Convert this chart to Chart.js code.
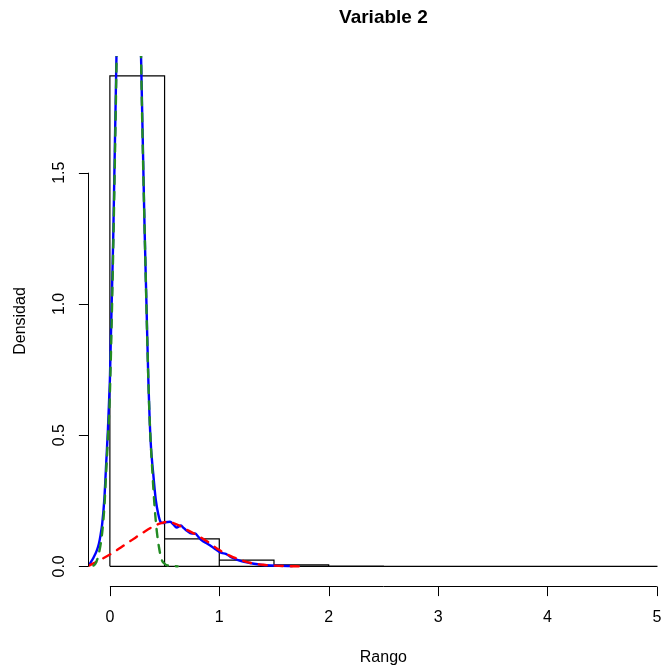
<!DOCTYPE html>
<html>
<head>
<meta charset="utf-8">
<script src="https://cdn.jsdelivr.net/npm/chart.js@4"></script>
<style>
  html, body { margin: 0; padding: 0; background: #fff; overflow: hidden; }
  canvas { display: block; }
</style>
</head>
<body>
<canvas id="densityChart" width="661" height="669"></canvas>
<script>
// histogram bins (width 0.5) and heights
const binEdges = [0, 0.5, 1, 1.5, 2, 2.5, 3, 3.5, 4, 4.5, 5];
const binHeights = [1.869, 0.105, 0.024, 0.006, 0.0008, 0.0004, 0.0003, 0.0002, 0.0002, 0.0002];

// blue solid curve (overall density)
const blueX = [-0.19, -0.15, -0.12, -0.10, -0.085, -0.07, -0.05, -0.034, -0.018, -0.006, 0.0, 0.03, 0.06, 0.10, 0.175, 0.25, 0.285, 0.32, 0.335, 0.35, 0.372, 0.396, 0.42, 0.442, 0.464, 0.487, 0.51, 0.55, 0.58, 0.61, 0.65, 0.67, 0.70, 0.75, 0.78, 0.81, 0.84, 0.88, 0.93, 0.97, 1.02, 1.06, 1.10, 1.14, 1.20, 1.28, 1.35, 1.43, 1.55, 1.67];
const blueY = [0.005, 0.033, 0.06, 0.087, 0.12, 0.163, 0.26, 0.39, 0.52, 0.646, 0.71, 1.24, 1.94, 3.0, 4.0, 3.0, 1.94, 1.24, 0.99, 0.735, 0.48, 0.354, 0.252, 0.20, 0.169, 0.165, 0.168, 0.17, 0.16, 0.148, 0.156, 0.148, 0.137, 0.125, 0.125, 0.112, 0.099, 0.089, 0.076, 0.064, 0.051, 0.048, 0.037, 0.029, 0.02, 0.013, 0.008, 0.004, 0.002, 0.001];

// green dashed component (narrow peak)
const greenX = [-0.15, -0.13, -0.10, -0.07, -0.05, -0.034, -0.018, 0.0, 0.03, 0.06, 0.10, 0.175, 0.25, 0.285, 0.32, 0.36, 0.39, 0.41, 0.43, 0.45, 0.47, 0.50, 0.55, 0.62];
const greenY = [0.003, 0.012, 0.05, 0.13, 0.23, 0.36, 0.49, 0.66, 1.2, 1.9, 3.0, 4.0, 3.0, 1.94, 1.24, 0.6, 0.35, 0.22, 0.13, 0.07, 0.03, 0.01, 0.002, 0.0];

// red dashed component (wide)
const redX = [-0.19, -0.1, 0.0, 0.1, 0.2, 0.3, 0.4, 0.47, 0.53, 0.58, 0.65, 0.7, 0.8, 0.9, 1.0, 1.1, 1.2, 1.3, 1.4, 1.5, 1.6, 1.75];
const redY = [0.003, 0.022, 0.045, 0.072, 0.1, 0.128, 0.153, 0.165, 0.17, 0.165, 0.152, 0.14, 0.118, 0.092, 0.062, 0.04, 0.024, 0.012, 0.006, 0.003, 0.001, 0.0];

const xTicks = [0, 1, 2, 3, 4, 5];
const yTicks = [0, 0.5, 1.0, 1.5];
const yTickLabels = ["0.0", "0.5", "1.0", "1.5"];

const mainTitle = "Variable 2";
const xTitle = "Rango";
const yTitle = "Densidad";

const toPoints = (xs, ys) => xs.map((x, i) => ({ x: x, y: ys[i] }));

// outline of the histogram rectangles
const histOutline = [];
binHeights.forEach((h, i) => {
  histOutline.push({ x: binEdges[i], y: 0 });
  histOutline.push({ x: binEdges[i], y: h });
  histOutline.push({ x: binEdges[i + 1], y: h });
  histOutline.push({ x: binEdges[i + 1], y: 0 });
});
histOutline.push({ x: binEdges[0], y: 0 });

const FONT = "'Liberation Sans', Arial, Helvetica, sans-serif";

// base-R style axes and labels
const rAxes = {
  id: "rAxes",
  afterDraw(chart) {
    const { ctx, chartArea } = chart;
    const xs = chart.scales.x;
    const ys = chart.scales.y;
    ctx.save();
    ctx.strokeStyle = "#000";
    ctx.fillStyle = "#000";
    ctx.lineWidth = 1;

    const tickLen = 9.6;
    const axY = Math.round(chartArea.bottom) + 0.5;
    ctx.beginPath();
    ctx.moveTo(xs.getPixelForValue(xTicks[0]), axY);
    ctx.lineTo(xs.getPixelForValue(xTicks[xTicks.length - 1]), axY);
    xTicks.forEach(t => {
      const px = Math.round(xs.getPixelForValue(t)) + 0.5;
      ctx.moveTo(px, axY);
      ctx.lineTo(px, axY + tickLen);
    });
    const axX = Math.round(chartArea.left) + 0.5;
    ctx.moveTo(axX, ys.getPixelForValue(yTicks[0]));
    ctx.lineTo(axX, ys.getPixelForValue(yTicks[yTicks.length - 1]));
    yTicks.forEach(t => {
      const py = Math.round(ys.getPixelForValue(t)) + 0.5;
      ctx.moveTo(axX, py);
      ctx.lineTo(axX - tickLen, py);
    });
    ctx.stroke();

    ctx.font = "16px " + FONT;
    ctx.textAlign = "center";
    ctx.textBaseline = "alphabetic";
    xTicks.forEach(t => {
      ctx.fillText(String(t), xs.getPixelForValue(t), chartArea.bottom + 36);
    });
    yTicks.forEach((t, i) => {
      ctx.save();
      ctx.translate(64, ys.getPixelForValue(t));
      ctx.rotate(-Math.PI / 2);
      ctx.fillText(yTickLabels[i], 0, 0);
      ctx.restore();
    });

    const midX = xs.getPixelForValue(2.5);
    const midY = (chartArea.top + chartArea.bottom) / 2;
    ctx.fillText(xTitle, midX, 661.5);
    ctx.save();
    ctx.translate(25, midY);
    ctx.rotate(-Math.PI / 2);
    ctx.fillText(yTitle, 0, 0);
    ctx.restore();

    ctx.font = "bold 19px " + FONT;
    ctx.fillText(mainTitle, midX, 23);
    ctx.restore();
  }
};

new Chart(document.getElementById("densityChart").getContext("2d"), {
  type: "line",
  data: {
    datasets: [
      {
        label: "hist",
        data: histOutline,
        borderColor: "#000",
        borderWidth: 1.2,
        pointRadius: 0,
        tension: 0,
        fill: false,
        order: 4
      },
      {
        label: "density",
        data: toPoints(blueX, blueY),
        borderColor: "#0000ff",
        borderWidth: 2.4,
        pointRadius: 0,
        cubicInterpolationMode: "monotone",
        fill: false,
        order: 3
      },
      {
        label: "comp2",
        data: toPoints(redX, redY),
        borderColor: "#ff0000",
        borderWidth: 2.4,
        borderDash: [8, 8],
        borderCapStyle: "round",
        pointRadius: 0,
        cubicInterpolationMode: "monotone",
        fill: false,
        order: 2
      },
      {
        label: "comp1",
        data: toPoints(greenX, greenY),
        borderColor: "#228b22",
        borderWidth: 2.4,
        borderDash: [8, 8],
        borderCapStyle: "round",
        pointRadius: 0,
        cubicInterpolationMode: "monotone",
        fill: false,
        order: 1
      }
    ]
  },
  options: {
    responsive: false,
    animation: false,
    events: [],
    layout: { padding: { left: 88, right: 0, top: 56, bottom: 83 } },
    plugins: { legend: { display: false }, tooltip: { enabled: false }, title: { display: false } },
    scales: {
      x: { type: "linear", min: -0.2, max: 5.0376, display: false },
      y: { type: "linear", min: -0.0748, max: 1.9448, display: false }
    }
  },
  plugins: [rAxes]
});
</script>
</body>
</html>
